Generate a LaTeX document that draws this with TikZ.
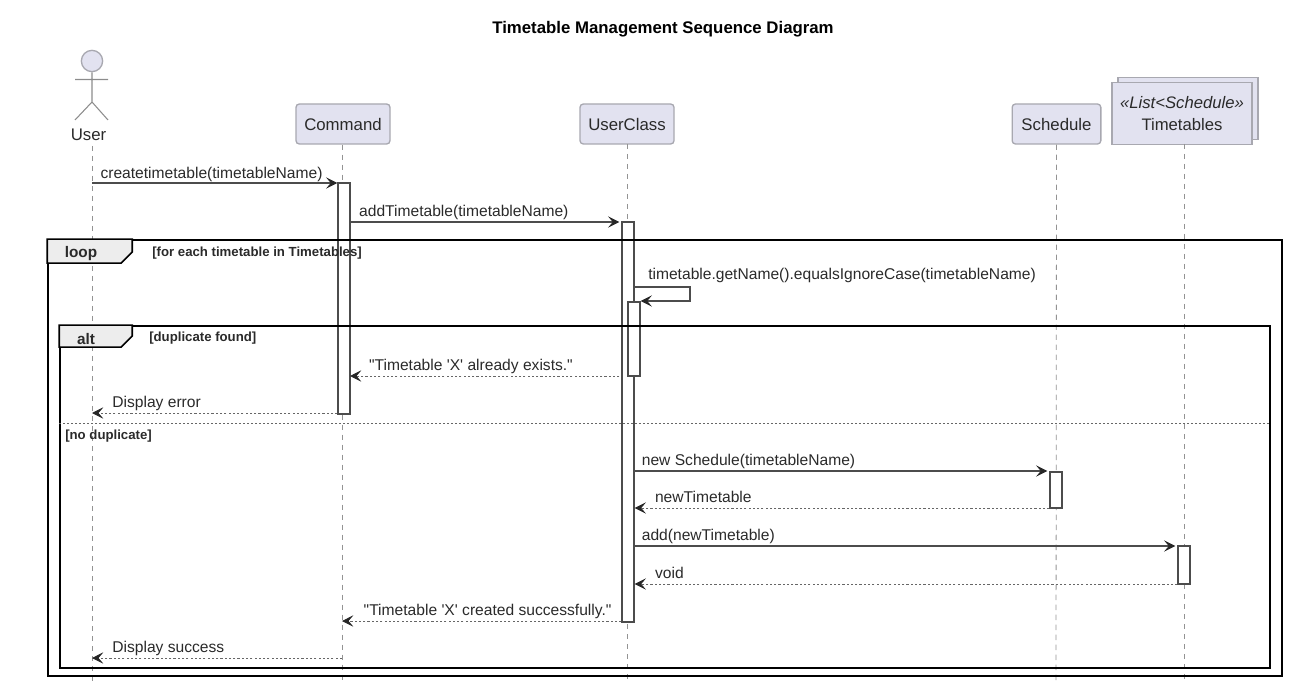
\documentclass[tikz,border=0pt]{standalone}
\usepackage{fontspec}
\setmainfont{Liberation Sans}[Ligatures=TeXOff]
\usetikzlibrary{
	arrows.meta,
	calc,
	positioning
}
\definecolor{boxfill}{HTML}{E2E2F0}
\definecolor{boxline}{HTML}{A8A8B0}
\definecolor{inktext}{HTML}{2A2A2A}
\tikzset{
	head/.style={draw=boxline, fill=boxfill, line width=1pt, rounded corners=2.5pt, inner sep=0pt, minimum height=30pt, text=inktext, font=\fontsize{12.6}{15}\selectfont},
	stack/.style={draw=boxline, fill=boxfill, line width=1pt, inner sep=0pt, minimum width=105pt, minimum height=46.5pt, align=center, text=inktext, font=\fontsize{12.5}{16.5}\selectfont},
	life/.style={draw=gray!85, line width=.6pt, dash pattern=on 4pt off 3.5pt},
	actbar/.style={draw=black!70, fill=white, line width=1pt, inner sep=0pt, minimum width=9pt},
	msg/.style={draw=black!70, line width=.8pt, -{Stealth[length=8.5pt,width=8.5pt,inset=3.6pt,color=black!85]}},
	reply/.style={msg, draw=black!60, line width=.6pt, dash pattern=on 1.6pt off 1.6pt},
	msgtext/.style={inner sep=0pt, anchor=base west, text=inktext, font=\fontsize{11.7}{14}\selectfont},
	frame/.style={draw=black, line width=1.3pt, inner sep=0pt},
	tab/.style={draw=black, fill=black!7, line width=1.3pt},
	tabtext/.style={inner sep=0pt, font=\bfseries\fontsize{11.5}{13}\selectfont, text=inktext},
	guard/.style={inner sep=0pt, anchor=base west, font=\bfseries\fontsize{9.9}{12}\selectfont, text=inktext}
}
\begin{document}
\begin{tikzpicture}[x=.75pt, y=-.75pt]
	\useasboundingbox (0,0) rectangle (1296,684);
	\node[font=\bfseries\fontsize{12.6}{15}\selectfont, text=black] (title) at (663,29) {Timetable Management Sequence Diagram};

	% lifeline heads
	\node[inner sep=0pt, text=inktext, font=\fontsize{12.6}{15}\selectfont] (User) at (88.5,135) {User};
	\node[head, minimum width=70.5pt] (Command) at (343,124) {\raisebox{-.75pt}{Command}};
	\node[head, minimum width=70.5pt] (UserClass) at (627,124) {\raisebox{-.75pt}{UserClass}};
	\node[head, minimum width=66.5pt] (Schedule) at (1056.5,124) {\raisebox{-.75pt}{Schedule}};
	\node[stack] (TimetablesBack) at (1188,108.5) {};
	\node[stack] (Timetables) at (1182,113.5) {{\itshape «List<Schedule»}\\Timetables};

	% actor
	\node[circle, draw=boxline, fill=boxfill, line width=1pt, minimum size=16pt, inner sep=0pt] (UserHead) at (92,61) {};
	\coordinate (UserHip) at (92,102);
	\draw[draw=black!45, line width=.8pt] (UserHead) -- (UserHip) (75,79.5) -- (108,79.5) (75,120) -- (UserHip) -- (108,120);

	% lifelines
	\coordinate (UserEnd) at (92,684);
	\draw[life] (92,146) -- (UserEnd);
	\draw[life] (Command.south -| 342,0) -- (342,684);
	\draw[life] (UserClass) ++(0,20) -- (627,684);
	\draw[life] (Schedule.south) -- (1056,684);
	\draw[life] (1184,144) -- (1184,684);

	% activation bars
	\node[actbar, minimum height=173pt] (barCommand) at (344,298.5) {};
	\node[actbar, minimum height=300pt] (barUserClass) at (628,422) {};
	\node[actbar, minimum height=55.5pt] (barCheck) at (634,339) {};
	\node[actbar, minimum height=27pt] (barSchedule) at (1056,490) {};
	\node[actbar, minimum height=28.5pt] (barTimetables) at (1184,565) {};

	% frames
	\node[frame, minimum width=925.5pt, minimum height=327pt] (loopFrame) at (665,458) {};
	\node[frame, minimum width=907.5pt, minimum height=256.5pt] (altFrame) at (665,497) {};
	\draw[tab] (loopFrame.north west) -- ++(85,0) -- ++(0,13) -- ++(-11,11) -- ($(loopFrame.north west)+(0,24)$) -- cycle;
	\draw[tab] (altFrame.north west) -- ++(73,0) -- ++(0,11) -- ++(-11,11) -- ($(altFrame.north west)+(0,22)$) -- cycle;
	\node[tabtext] (loopTab) at (81,254) {loop};
	\node[tabtext] (altTab) at (86,339) {alt};
	\node[guard] (loopGuard) at (152,257) {[for each timetable in Timetables]};
	\node[guard] (altGuard) at (149,342) {[duplicate found]};
	\node[guard] (elseGuard) at (65,439) {[no duplicate]};
	\draw[draw=black!60, line width=.7pt, dash pattern=on 1.5pt off 1.5pt] (altFrame.west |- 0,423) -- (altFrame.east |- 0,423);

	% message ends
	\coordinate (m1) at (92,183);
	\coordinate (m2) at (627,222);
	\coordinate (m3a) at (690,287);
	\coordinate (m3b) at (690,301);
	\coordinate (m4) at (350,376);
	\coordinate (m5) at (92,413);
	\coordinate (m10) at (342,621);
	\coordinate (m11) at (92,658);

	\draw[msg] (m1) -- node[pos=0, msgtext, xshift=6pt, yshift=3.5pt] {createtimetable(timetableName)} (barCommand.west |- m1);
	\draw[msg] (barCommand.east |- m2) -- node[pos=0, msgtext, xshift=6pt, yshift=4pt] {addTimetable(timetableName)} ($(barUserClass.west |- m2)+(-2,0)$);
	\node[msgtext] (m3text) at (648,279.5) {timetable.getName().equalsIgnoreCase(timetableName)};
	\draw[msg] (barUserClass.east |- m3a) -- (m3a) -- (m3b) -- (barCheck.east |- m3b);
	\draw[reply] ($(barUserClass.west |- m4)+(-2,0)$) -- node[pos=1, msgtext, xshift=14pt, yshift=4.5pt] {"Timetable 'X' already exists."} (m4);
	\draw[reply] (barCommand.south west |- m5) -- node[pos=1, msgtext, xshift=15pt, yshift=4.5pt] {Display error} (m5);
	\draw[msg] (barUserClass.east |- 0,471) -- node[pos=0, msgtext, xshift=5pt, yshift=4.5pt] {new Schedule(timetableName)} ($(barSchedule.west |- 0,471)+(-2,0)$);
	\draw[reply] (barSchedule.west |- 0,508) -- node[pos=1, msgtext, xshift=15pt, yshift=4.5pt] {newTimetable} (barUserClass.east |- 0,508);
	\draw[msg] (barUserClass.east |- 0,546) -- node[pos=0, msgtext, xshift=5pt, yshift=4.5pt] {add(newTimetable)} ($(barTimetables.west |- 0,546)+(-2,0)$);
	\draw[reply] (barTimetables.west |- 0,584) -- node[pos=1, msgtext, xshift=15pt, yshift=4.5pt] {void} (barUserClass.east |- 0,584);
	\draw[reply] (barUserClass.west |- 0,621) -- node[pos=1, msgtext, xshift=16pt, yshift=4.5pt] {"Timetable 'X' created successfully."} (m10);
	\draw[reply] (342,658) -- node[pos=1, msgtext, xshift=15pt, yshift=4.5pt] {Display success} (m11);
\end{tikzpicture}
\end{document}
